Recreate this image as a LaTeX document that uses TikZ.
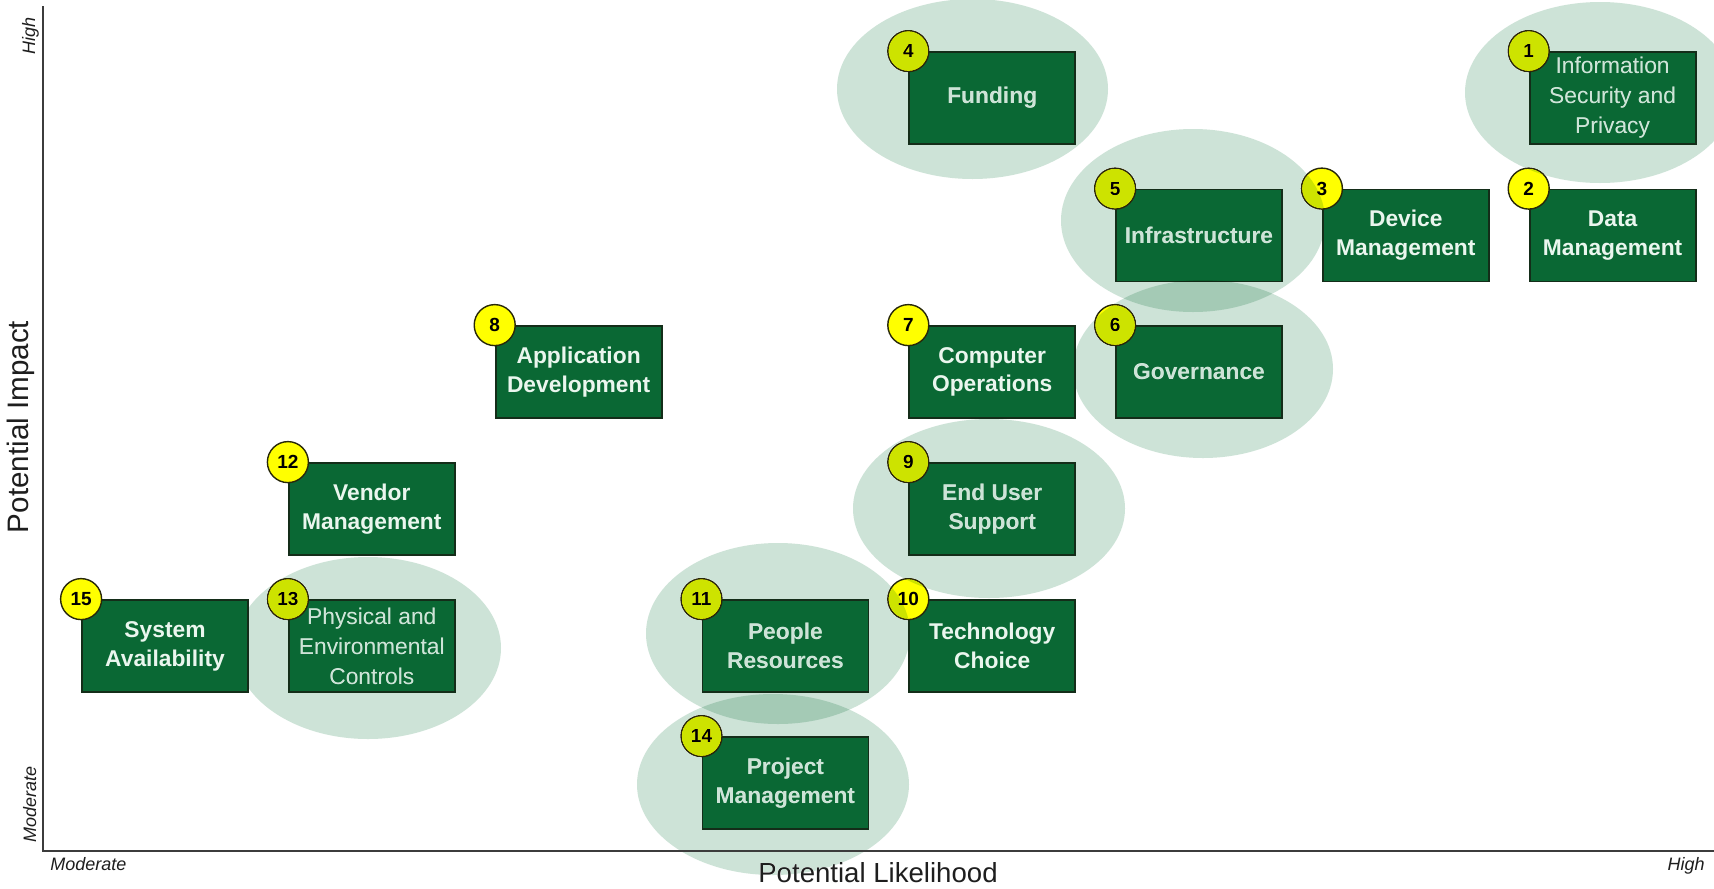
\documentclass[tikz,border=0pt]{standalone}
\usepackage{fontspec}
\setmainfont{Liberation Sans}
\definecolor{boxgreen}{RGB}{10,104,52}
\definecolor{boxedge}{RGB}{20,45,25}
\definecolor{ovalc}{RGB}{205,227,215}
\definecolor{txtc}{RGB}{234,246,238}
\definecolor{numyellow}{RGB}{255,255,0}
\definecolor{numedge}{RGB}{40,40,10}
\definecolor{axisc}{RGB}{60,60,60}
\definecolor{labc}{RGB}{30,30,30}
\begin{document}
\begin{tikzpicture}[x=0.5pt,y=-0.5pt,
  riskbox/.style={draw=boxedge, line width=0.9pt, fill=boxgreen, minimum width=83pt, minimum height=46pt, inner sep=0pt, align=center, text=txtc, font=\fontsize{11.4}{14.4}\selectfont\bfseries},
  riskboxlight/.style={riskbox, font=\fontsize{11.4}{15}\selectfont},
  numdot/.style={circle, draw=numedge, line width=0.7pt, fill=numyellow, minimum size=20.5pt, inner sep=0pt, text=black, font=\fontsize{9.5}{10}\selectfont\bfseries},
  oval/.style={fill=ovalc, draw=none, blend mode=darken},
  ovallap/.style={fill=ovalc, draw=none, blend mode=multiply},
  axislab/.style={text=labc, font=\fontsize{9}{10}\selectfont\itshape, inner sep=0pt},
  axistitle/.style={text=labc, inner sep=0pt}
]
\useasboundingbox (0,0) rectangle (1714,889);
\fill[white] (0,0) rectangle (1714,889);

% axes
\coordinate (ytop) at (43,6);
\coordinate (origin) at (43,851);
\coordinate (xend) at (1714,851);
\draw[axisc, line width=1.1pt] (ytop) -- (origin) -- (xend);

\node[axislab, rotate=90, anchor=base west] (yhigh) at (35,55) {High};
\node[axislab, rotate=90, anchor=base west] (ymod) at (36,843) {Moderate};
\node[axislab, anchor=base west] (xmod) at (50,870) {Moderate};
\node[axislab, anchor=base east] (xhigh) at (1705,870) {High};
\node[axistitle, rotate=90, font=\fontsize{14.8}{16}\selectfont] (ytitle) at (21,427) {Potential Impact};
\node[axistitle, font=\fontsize{13.8}{16}\selectfont] (xtitle) at (878,873) {Potential Likelihood};

% boxes
\node[riskboxlight] (b1) at (1612.6,98) {Information\\Security and\\Privacy};
\node[riskbox] (b2) at (1612.6,235.5) {Data\\Management};
\node[riskbox] (b3) at (1405.8,235.5) {Device\\Management};
\node[riskbox] (b4) at (992.2,98) {Funding};
\node[riskbox] (b5) at (1199,235.5) {Infrastructure};
\node[riskbox] (b6) at (1199,372) {Governance};
\node[riskbox] (b7) at (992.2,372) {Computer\\Operations};
\node[riskbox] (b8) at (578.6,372) {Application\\Development};
\node[riskbox] (b9) at (992.2,509) {End User\\Support};
\node[riskbox] (b10) at (992.2,646) {Technology\\Choice};
\node[riskbox] (b11) at (785.4,646) {People\\Resources};
\node[riskbox] (b12) at (371.8,509) {Vendor\\Management};
\node[riskboxlight] (b13) at (371.8,646) {Physical and\\Environmental\\Controls};
\node[riskbox] (b14) at (785.4,783) {Project\\Management};
\node[riskbox] (b15) at (165,646) {System\\Availability};

% number badges
\foreach \i in {1,...,15} {
  \node[numdot] (n\i) at (b\i.north west) {\i};
}

% highlight ovals
\begin{scope}
\clip (0,0) rectangle (1714,889);
\fill[oval] (1600,92.5) ellipse [x radius=67.5pt, y radius=45.25pt];
\fill[oval] (972.5,89) ellipse [x radius=67.75pt, y radius=45pt];
\fill[oval] (1193,220.5) ellipse [x radius=66pt, y radius=45.75pt];
\fill[oval] (1203,369) ellipse [x radius=65pt, y radius=44.5pt];
\fill[oval] (989,508.5) ellipse [x radius=68pt, y radius=44.75pt];
\fill[oval] (778,633.5) ellipse [x radius=66pt, y radius=45.25pt];
\fill[oval] (773,784.5) ellipse [x radius=68pt, y radius=45.25pt];
\fill[oval] (368,648) ellipse [x radius=66.5pt, y radius=45.5pt];
\end{scope}
% darker overlaps where two ovals meet
\begin{scope}
\clip (1193,220.5) ellipse [x radius=66pt, y radius=45.75pt];
\fill[ovallap] (1203,369) ellipse [x radius=65pt, y radius=44.5pt];
\end{scope}
\begin{scope}
\clip (778,633.5) ellipse [x radius=66pt, y radius=45.25pt];
\fill[ovallap] (773,784.5) ellipse [x radius=68pt, y radius=45.25pt];
\end{scope}
\begin{scope}
\clip (778,633.5) ellipse [x radius=66pt, y radius=45.25pt];
\fill[ovallap] (989,508.5) ellipse [x radius=68pt, y radius=44.75pt];
\end{scope}
\end{tikzpicture}
\end{document}
